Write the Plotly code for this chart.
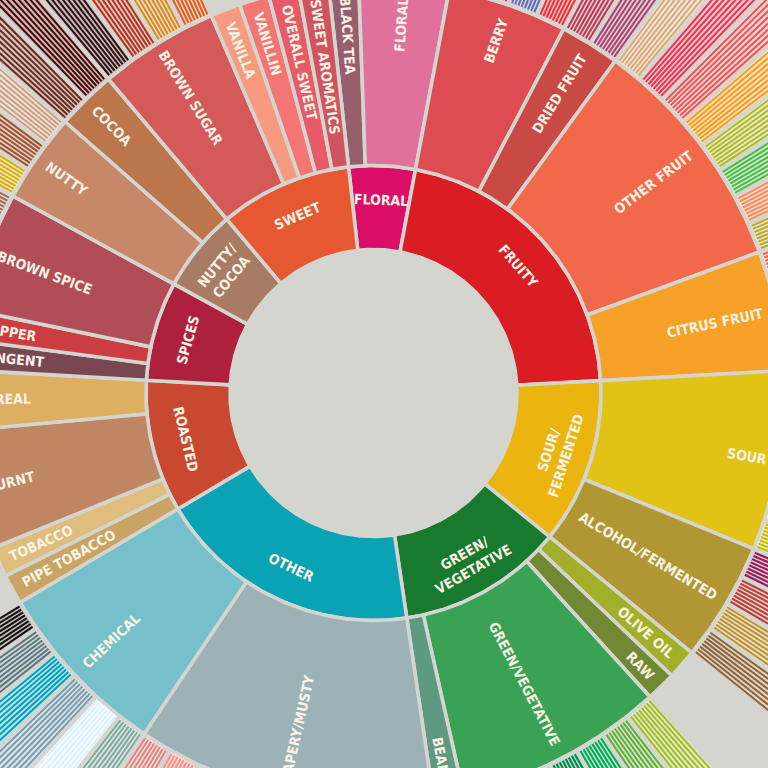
import math
import plotly.graph_objects as go

# ---------------- data ----------------
level1_names = ["Floral", "Fruity", "Sour/Fermented", "Green/Vegetative", "Other",
                "Roasted", "Spices", "Nutty/Cocoa", "Sweet"]
level1_labels = ["FLORAL", "FRUITY", "SOUR/<br>FERMENTED", "GREEN/<br>VEGETATIVE", "OTHER",
                 "ROASTED", "SPICES", "NUTTY/<br>COCOA", "SWEET"]
level1_colors = ["#da0d68", "#da1d23", "#ebb40f", "#187a2f", "#0aa3b5",
                 "#c94930", "#ad213e", "#a87b64", "#e65832"]

level2_names = ["Black Tea", "Floral", "Berry", "Dried Fruit", "Other Fruit", "Citrus Fruit",
                "Sour", "Alcohol/Fermented", "Olive Oil", "Raw", "Green/Vegetative", "Beany",
                "Papery/Musty", "Chemical", "Pipe Tobacco", "Tobacco", "Burnt", "Cereal",
                "Pungent", "Pepper", "Brown Spice", "Nutty", "Cocoa", "Brown Sugar",
                "Vanilla", "Vanillin", "Overall Sweet", "Sweet Aromatics"]
level2_parents = ["Floral", "Floral", "Fruity", "Fruity", "Fruity", "Fruity",
                  "Sour/Fermented", "Sour/Fermented", "Green/Vegetative", "Green/Vegetative",
                  "Green/Vegetative", "Green/Vegetative", "Other", "Other",
                  "Roasted", "Roasted", "Roasted", "Roasted",
                  "Spices", "Spices", "Spices", "Nutty/Cocoa", "Nutty/Cocoa",
                  "Sweet", "Sweet", "Sweet", "Sweet", "Sweet"]
level2_colors = ["#975e6d", "#e0719c", "#dd4c51", "#c94a44", "#f2684b", "#f7a128",
                 "#e1c315", "#b09733", "#a2b029", "#718933", "#3aa255", "#5e9a80",
                 "#9db2b7", "#76c0cb", "#caa465", "#dfbd7e", "#be8663", "#ddaf61",
                 "#794752", "#cc3d41", "#b14d57", "#c78869", "#bb764c", "#d45a59",
                 "#f89a80", "#f37674", "#e75b68", "#d0545f"]

level3_names = ["Chamomile", "Rose", "Jasmine",
                "Blackberry", "Raspberry", "Blueberry", "Strawberry",
                "Raisin", "Prune",
                "Coconut", "Cherry", "Pomegranate", "Pineapple", "Grape", "Apple", "Peach", "Pear",
                "Grapefruit", "Orange", "Lemon", "Lime",
                "Sour Aromatics", "Acetic Acid", "Butyric Acid", "Isovaleric Acid", "Citric Acid", "Malic Acid",
                "Winey", "Whiskey", "Fermented", "Overripe",
                "Under-ripe", "Peapod", "Fresh", "Dark Green", "Vegetative", "Hay-like", "Herb-like",
                "Stale", "Cardboard", "Papery", "Woody", "Moldy/Damp", "Musty/Dusty", "Musty/Earthy",
                "Animalic", "Meaty Brothy", "Phenolic",
                "Bitter", "Salty", "Medicinal", "Petroleum", "Skunky", "Rubber",
                "Acrid", "Ashy", "Smoky", "Brown Roast",
                "Grain", "Malt",
                "Anise", "Nutmeg", "Cinnamon", "Clove",
                "Peanuts", "Hazelnut", "Almond",
                "Chocolate", "Dark Chocolate",
                "Molasses", "Maple Syrup", "Caramelized", "Honey"]
level3_parents = (["Floral"] * 3 + ["Berry"] * 4 + ["Dried Fruit"] * 2 + ["Other Fruit"] * 8 +
                  ["Citrus Fruit"] * 4 + ["Sour"] * 6 + ["Alcohol/Fermented"] * 4 +
                  ["Green/Vegetative"] * 7 + ["Papery/Musty"] * 10 + ["Chemical"] * 6 +
                  ["Burnt"] * 4 + ["Cereal"] * 2 + ["Brown Spice"] * 4 + ["Nutty"] * 3 +
                  ["Cocoa"] * 2 + ["Brown Sugar"] * 4)
level3_colors = ["#f99e1c", "#ef5a78", "#f7f1bd",
                 "#3e0317", "#e62969", "#6569b0", "#ef2d36",
                 "#b53b54", "#a5446f",
                 "#d6a978", "#e73451", "#e65656", "#f89a1c", "#aeb92c", "#4eb849", "#f68a5c", "#baa635",
                 "#f26355", "#e2631e", "#fde404", "#7eb138",
                 "#9ea718", "#94a76f", "#d0b24f", "#8eb646", "#faef07", "#c1ba07",
                 "#8f1c53", "#b34039", "#ba9232", "#8b6439",
                 "#a2bb2b", "#62aa3c", "#03a653", "#038549", "#28b44b", "#a3a830", "#7ac141",
                 "#8b8c90", "#beb276", "#fefef4", "#744e03", "#a3a36f", "#c9b583", "#978847",
                 "#9d977f", "#fc8c88", "#dc8680",
                 "#80a89d", "#def2fd", "#7a9bae", "#039fb8", "#5e777b", "#120c0c",
                 "#b9a449", "#899893", "#a1743b", "#894810",
                 "#b7906f", "#eb9d5f",
                 "#c78936", "#8c292c", "#e5762e", "#a16c5a",
                 "#d4ad12", "#9d5433", "#c89f83",
                 "#692a19", "#470604",
                 "#310d0f", "#ae341f", "#d78823", "#da5c1f"]

# ---------------- layout constants ----------------
BG = "#d5d5d0"
CX, CY = 373.5, 393.0
R_IN, R_MID, R_OUT, R_FAR = 143.5, 227.5, 411.0, 820.0
START = -6.3
GAP = 3.6
LABEL_END = 397.0
R1_LABEL = 193.0
FONT = "DejaVu Sans Condensed, Liberation Sans Narrow, Roboto, sans-serif"
FSIZE = 14
TXT = "#fbf3e4"


def pt(r, deg):
    a = math.radians(deg)
    return CX + r * math.sin(a), CY - r * math.cos(a)


def arc(r, a0, a1):
    n = max(2, int(abs(a1 - a0) / 0.4) + 2)
    return [pt(r, a0 + (a1 - a0) * i / (n - 1)) for i in range(n)]


def wedge(r0, r1, a0, a1):
    p = arc(r1, a0, a1) + arc(r0, a1, a0)
    p.append(p[0])
    return [q[0] for q in p], [q[1] for q in p]


def tint(hexc, f):
    h = hexc.lstrip("#")
    c = [int(h[i:i + 2], 16) for i in (0, 2, 4)]
    c = [round(v + (255 - v) * f) for v in c]
    return "#%02x%02x%02x" % tuple(c)


def text_len(s):
    w = 0.0
    for ch in s:
        if ch in " /I":
            w += 0.33
        elif ch in "MW":
            w += 0.85
        else:
            w += 0.66
    return w * FSIZE


# unit counts
l2_units = []
for n in level2_names:
    k = sum(1 for p in level3_parents if p == n)
    l2_units.append(k if k else 1)
l1_units = [sum(u for u, p in zip(l2_units, level2_parents) if p == n) for n in level1_names]
TOTAL = sum(l1_units)
UNIT = 360.0 / TOTAL

fig = go.Figure()
ann = []
font = dict(family=FONT, size=FSIZE, color=TXT, weight="bold")


def add_wedge(r0, r1, a0, a1, color):
    xs, ys = wedge(r0, r1, a0, a1)
    fig.add_trace(go.Scatter(x=xs, y=ys, mode="lines", fill="toself", fillcolor=color,
                             line=dict(color=BG, width=GAP), hoverinfo="skip", showlegend=False))


# ring 1
pos = 0
for name, lab, col, u in zip(level1_names, level1_labels, level1_colors, l1_units):
    a0 = START + pos * UNIT
    a1 = START + (pos + u) * UNIT
    add_wedge(R_IN, R_MID, a0, a1, col)
    mid = (a0 + a1) / 2
    m = mid % 360
    ang = m if (m >= 270 or m < 90) else m - 180
    x, y = pt(R1_LABEL, mid)
    ann.append(dict(x=x, y=y, text=lab, textangle=ang, showarrow=False, font=font,
                    xanchor="center", yanchor="middle"))
    pos += u

# ring 2 and ring 3
pos = 0
for name, col, u in zip(level2_names, level2_colors, l2_units):
    a0 = START + pos * UNIT
    a1 = START + (pos + u) * UNIT
    add_wedge(R_MID, R_OUT, a0, a1, col)
    mid = (a0 + a1) / 2
    m = mid % 360
    ang = m - 90 if m < 180 else m - 270
    lab = name.upper()
    rc = LABEL_END - text_len(lab) / 2
    x, y = pt(rc, mid)
    ann.append(dict(x=x, y=y, text=lab, textangle=ang, showarrow=False, font=font,
                    xanchor="center", yanchor="middle"))
    kids = [(n3, c3) for n3, p3, c3 in zip(level3_names, level3_parents, level3_colors) if p3 == name]
    for j, (n3, c3) in enumerate(kids):
        b0 = a0 + j * UNIT
        b1 = b0 + UNIT
        add_wedge(R_OUT, R_FAR, b0, b1, tint(c3, 0.72))
        marg = 0.45
        nr = int(round((b1 - b0 - 2 * marg) / 0.5)) + 1
        xs, ys = [], []
        for i in range(nr):
            a = b0 + marg + (b1 - b0 - 2 * marg) * i / (nr - 1)
            p0 = pt(R_OUT + 2.5, a)
            p1 = pt(R_FAR, a)
            xs += [p0[0], p1[0], None]
            ys += [p0[1], p1[1], None]
        fig.add_trace(go.Scatter(x=xs, y=ys, mode="lines", line=dict(color=c3, width=2),
                                 hoverinfo="skip", showlegend=False))
    pos += u

fig.update_layout(
    width=768, height=768,
    margin=dict(l=0, r=0, t=0, b=0),
    paper_bgcolor=BG, plot_bgcolor=BG,
    xaxis=dict(range=[0, 768], visible=False, fixedrange=True),
    yaxis=dict(range=[768, 0], visible=False, fixedrange=True),
    annotations=ann,
    showlegend=False,
)
fig.write_html("out.html", config={"displayModeBar": False, "staticPlot": True},
               post_script="document.body.style.margin='0';document.body.style.overflow='hidden';")
